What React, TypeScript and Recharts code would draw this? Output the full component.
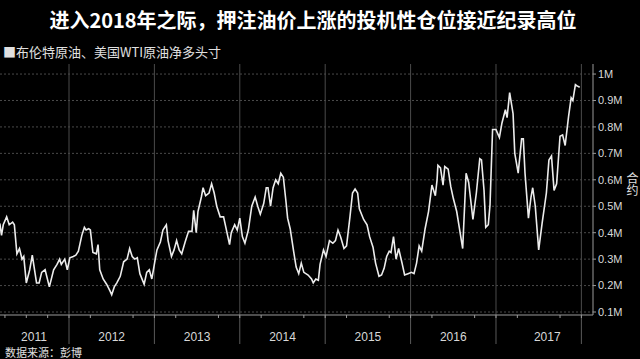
import { LineChart, Line, XAxis, YAxis, CartesianGrid, ReferenceLine } from "recharts";

// Weekly net long positions (decimal year, million contracts)
const dates = [
  2011.19, 2011.21, 2011.23, 2011.27, 2011.30, 2011.34, 2011.36, 2011.39, 2011.42, 2011.45,
  2011.47, 2011.50, 2011.54, 2011.57, 2011.62, 2011.65, 2011.68, 2011.72, 2011.77, 2011.82,
  2011.86, 2011.89, 2011.91, 2011.95, 2011.98, 2012.01, 2012.05, 2012.08, 2012.11, 2012.15,
  2012.18, 2012.20, 2012.23, 2012.25, 2012.28, 2012.32, 2012.34, 2012.36, 2012.40, 2012.44,
  2012.48, 2012.50, 2012.53, 2012.56, 2012.60, 2012.64, 2012.68, 2012.71, 2012.74, 2012.77,
  2012.80, 2012.83, 2012.88, 2012.91, 2012.94, 2012.97, 2013.01, 2013.03, 2013.07, 2013.10,
  2013.14, 2013.16, 2013.20, 2013.23, 2013.26, 2013.29, 2013.32, 2013.36, 2013.40, 2013.44,
  2013.46, 2013.49, 2013.51, 2013.55, 2013.57, 2013.60, 2013.64, 2013.67, 2013.70, 2013.73,
  2013.77, 2013.81, 2013.85, 2013.88, 2013.90, 2013.94, 2013.97, 2014.00, 2014.03, 2014.06,
  2014.10, 2014.14, 2014.18, 2014.21, 2014.24, 2014.28, 2014.31, 2014.33, 2014.36, 2014.39,
  2014.42, 2014.45, 2014.48, 2014.51, 2014.54, 2014.56, 2014.59, 2014.63, 2014.66, 2014.69,
  2014.72, 2014.75, 2014.80, 2014.84, 2014.86, 2014.89, 2014.92, 2014.94, 2014.98, 2015.01,
  2015.05, 2015.09, 2015.12, 2015.15, 2015.18, 2015.22, 2015.25, 2015.29, 2015.32, 2015.35,
  2015.38, 2015.40, 2015.45, 2015.49, 2015.52, 2015.56, 2015.59, 2015.63, 2015.66, 2015.69,
  2015.72, 2015.75, 2015.77, 2015.80, 2015.83, 2015.86, 2015.90, 2015.93, 2015.97, 2016.01,
  2016.04, 2016.07, 2016.10, 2016.13, 2016.17, 2016.21, 2016.25, 2016.29, 2016.31, 2016.32,
  2016.35, 2016.38, 2016.40, 2016.44, 2016.47, 2016.50, 2016.54, 2016.57, 2016.61, 2016.65,
  2016.68, 2016.70, 2016.73, 2016.77, 2016.81, 2016.83, 2016.86, 2016.88, 2016.91, 2016.93,
  2016.96, 2017.00, 2017.04, 2017.07, 2017.11, 2017.13, 2017.16, 2017.20, 2017.22, 2017.26,
  2017.30, 2017.32, 2017.34, 2017.38, 2017.41, 2017.43, 2017.46, 2017.50, 2017.54, 2017.59,
  2017.62, 2017.65, 2017.68, 2017.71, 2017.75, 2017.78, 2017.81, 2017.85, 2017.88, 2017.90,
  2017.93, 2017.95, 2017.98,
];

const positions = [
  0.435, 0.39, 0.43, 0.46, 0.43, 0.44, 0.43, 0.32, 0.34, 0.30,
  0.31, 0.21, 0.26, 0.315, 0.21, 0.21, 0.25, 0.26, 0.195, 0.26,
  0.28, 0.30, 0.28, 0.30, 0.26, 0.305, 0.31, 0.315, 0.33, 0.39,
  0.42, 0.41, 0.415, 0.41, 0.325, 0.32, 0.355, 0.26, 0.225, 0.205,
  0.18, 0.165, 0.195, 0.21, 0.235, 0.29, 0.30, 0.34, 0.31, 0.30,
  0.305, 0.245, 0.205, 0.25, 0.26, 0.225, 0.30, 0.335, 0.365, 0.41,
  0.43, 0.37, 0.31, 0.335, 0.37, 0.335, 0.32, 0.365, 0.405, 0.405,
  0.485, 0.40, 0.48, 0.535, 0.57, 0.54, 0.55, 0.585, 0.55, 0.50,
  0.46, 0.46, 0.40, 0.355, 0.40, 0.43, 0.41, 0.455, 0.385, 0.36,
  0.41, 0.50, 0.535, 0.50, 0.47, 0.51, 0.57, 0.57, 0.50, 0.57,
  0.60, 0.585, 0.625, 0.61, 0.52, 0.455, 0.415, 0.33, 0.27, 0.245,
  0.285, 0.25, 0.24, 0.225, 0.21, 0.225, 0.22, 0.28, 0.335, 0.31,
  0.37, 0.36, 0.37, 0.41, 0.385, 0.34, 0.35, 0.46, 0.55, 0.565,
  0.55, 0.49, 0.45, 0.43, 0.385, 0.345, 0.285, 0.235, 0.24, 0.265,
  0.31, 0.33, 0.325, 0.385, 0.30, 0.34, 0.285, 0.24, 0.245, 0.25,
  0.245, 0.285, 0.35, 0.33, 0.415, 0.48, 0.58, 0.54, 0.60, 0.655,
  0.645, 0.58, 0.65, 0.64, 0.575, 0.53, 0.48, 0.42, 0.34, 0.625,
  0.59, 0.535, 0.45, 0.55, 0.68, 0.675, 0.56, 0.42, 0.43, 0.505,
  0.79, 0.79, 0.76, 0.815, 0.865, 0.835, 0.93, 0.85, 0.70, 0.625,
  0.755, 0.755, 0.625, 0.455, 0.535, 0.57, 0.50, 0.335, 0.435, 0.55,
  0.675, 0.69, 0.56, 0.585, 0.765, 0.77, 0.73, 0.84, 0.91, 0.90,
  0.96, 0.955, 0.95,
];

const yTicks = [0.1, 0.2, 0.3, 0.4, 0.5, 0.6, 0.7, 0.8, 0.9, 1.0];
const yearLabels = ["2011", "2012", "2013", "2014", "2015", "2016", "2017"];
const yearLabelPos = [2011.59, 2012.5, 2013.5, 2014.5, 2015.5, 2016.5, 2017.6];
const yearBounds = [2012, 2013, 2014, 2015, 2016, 2017, 2018];
const quarterTicks = [
  2011.25, 2011.5, 2011.75, 2012.25, 2012.75, 2013.25, 2013.75, 2014.25, 2014.75,
  2015.25, 2015.75, 2016.25, 2016.75, 2017.25, 2017.75,
];

const data = dates.map((t, i) => ({ t, v: positions[i] }));

const narrow = "'Liberation Sans Narrow', 'Arial Narrow', 'Liberation Sans', Arial, sans-serif";
const cjk = "'Noto Sans CJK SC', 'Noto Sans', sans-serif";

const allXTicks = [...yearBounds, ...quarterTicks, ...yearLabelPos].sort((a, b) => a - b);

const XTick = (props: any) => {
  const { x, y, payload } = props;
  const value = payload.value;
  const labelIdx = yearLabelPos.indexOf(value);
  const isBound = yearBounds.indexOf(value) >= 0;
  const isQuarter = quarterTicks.indexOf(value) >= 0;
  return (
    <g>
      {isBound && <line x1={x} y1={y} x2={x} y2={y + 29} stroke="#5a5a5a" />}
      {(isQuarter || isBound) && <line x1={x} y1={y} x2={x} y2={y + 3} stroke="#9a9a9a" />}
      {labelIdx >= 0 && (
        <text x={x} y={y + 26} textAnchor="middle" fill="#d8d8d8" fontSize={12} fontFamily={narrow}>
          {yearLabels[labelIdx]}
        </text>
      )}
    </g>
  );
};

export default function App() {
  return (
    <div style={{ position: "absolute", left: 0, top: 0, width: 640, height: 359, background: "#000", overflow: "hidden" }}>
      <div style={{ position: "absolute", left: 0, top: 7, width: 626, textAlign: "center", color: "#fff", fontFamily: cjk, fontWeight: 700, fontSize: 20, lineHeight: "26px", whiteSpace: "nowrap" }}>
        进入2018年之际，押注油价上涨的投机性仓位接近纪录高位
      </div>
      <div style={{ position: "absolute", left: 3, top: 43, color: "#e0e0e0", fontFamily: cjk, fontSize: 13, lineHeight: "18px", whiteSpace: "nowrap" }}>
        ■布伦特原油、美国WTI原油净多头寸
      </div>
      <LineChart
        width={640}
        height={359}
        data={data}
        margin={{ top: 64, right: 0, bottom: 14, left: 0 }}
        style={{ position: "absolute", left: 0, top: 0 }}
      >
        <CartesianGrid horizontal vertical={false} stroke="#4a4a4a" strokeDasharray="2 2" horizontalValues={yTicks} />
        {yearBounds.map((b) => (
          <ReferenceLine key={b} x={b} stroke="#4a4a4a" />
        ))}
        <XAxis
          dataKey="t"
          type="number"
          domain={[2011.192, 2018.136]}
          ticks={allXTicks}
          interval={0}
          height={30}
          tickLine={false}
          tickSize={0}
          tickMargin={0}
          axisLine={{ stroke: "#9a9a9a" }}
          tick={<XTick />}
          allowDataOverflow
        />
        <YAxis
          orientation="right"
          type="number"
          domain={[0.0887, 1.038]}
          ticks={yTicks}
          interval={0}
          width={47}
          tickSize={3}
          tickMargin={2}
          axisLine={{ stroke: "#9a9a9a" }}
          tickLine={{ stroke: "#9a9a9a" }}
          tick={{ fill: "#d8d8d8", fontSize: 11, fontFamily: narrow, textAnchor: "start" }}
          tickFormatter={(v: number) => (v >= 0.999 ? "1M" : `${v.toFixed(1)}M`)}
          allowDataOverflow
        />
        <Line
          type="linear"
          dataKey="v"
          stroke="#ececec"
          strokeWidth={1.6}
          dot={false}
          isAnimationActive={false}
        />
      </LineChart>
      <div style={{ position: "absolute", left: 626, top: 172, color: "#e0e0e0", fontFamily: cjk, fontSize: 12, lineHeight: "13px", writingMode: "vertical-rl", textOrientation: "upright", whiteSpace: "nowrap" }}>
        合约
      </div>
      <div style={{ position: "absolute", left: 5, top: 345, color: "#e0e0e0", fontFamily: cjk, fontSize: 11, lineHeight: "14px", whiteSpace: "nowrap" }}>
        数据来源：彭博
      </div>
    </div>
  );
}
